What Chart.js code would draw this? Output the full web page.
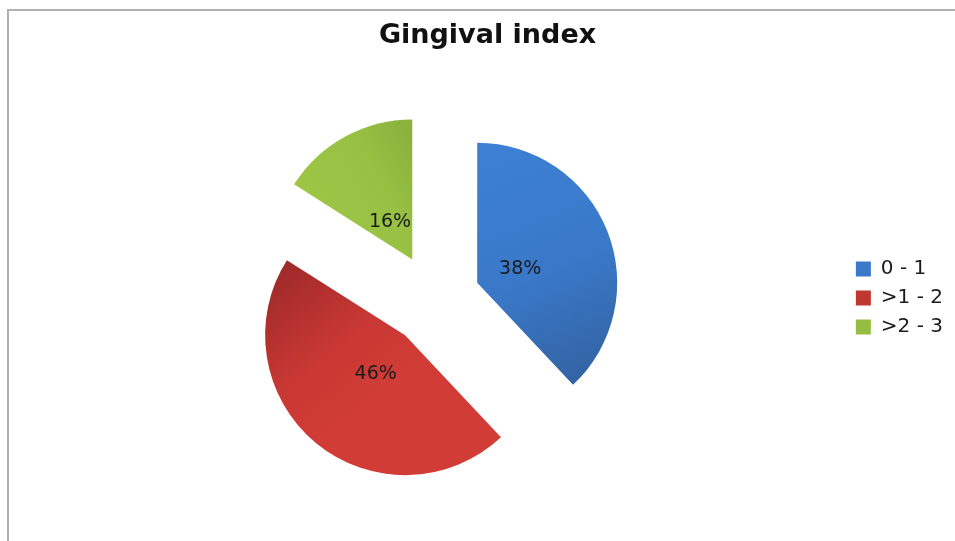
<!DOCTYPE html>
<html>
<head>
<meta charset="utf-8">
<script src="https://cdn.jsdelivr.net/npm/chart.js@4/dist/chart.umd.min.js"></script>
<style>
  html, body { margin: 0; padding: 0; background: #fff; overflow: hidden; }
  .line { position: absolute; background: #b0b0b0; }
  #top { left: 7px; top: 9px; width: 948px; height: 2px; }
  #left { left: 7px; top: 9px; width: 2px; height: 532px; }
  #wrap { position: absolute; left: 10px; top: 12px; width: 945px; height: 529px; }
</style>
</head>
<body>
<div class="line" id="top"></div>
<div class="line" id="left"></div>
<div id="wrap"><canvas id="pie"></canvas></div>
<script>
// Gingival index - distribuição dos grupos
const categories = ['0 - 1', '>1 - 2', '>2 - 3'];
const percentages = [38, 46, 16];
const legendColors = ['#3b78c9', '#c0372f', '#95bd42'];

const EXPLODE = 46;   // deslocamento de cada fatia (px)
const RADIUS = 140;
const FONT = 'DejaVu Sans';

// ângulo médio da fatia i (0 = topo, sentido horário, em radianos do canvas)
function sliceMid(i) {
  const total = percentages.reduce((a, b) => a + b, 0);
  let before = 0;
  for (let k = 0; k < i; k++) before += percentages[k];
  return -Math.PI / 2 + (before + percentages[i] / 2) / total * Math.PI * 2;
}

function sliceFill(ctx) {
  const chart = ctx.chart;
  const area = chart.chartArea;
  const i = ctx.dataIndex;
  if (!area) return legendColors[i];
  const mid = sliceMid(i);
  const ax = (area.left + area.right) / 2 + Math.cos(mid) * EXPLODE;
  const ay = (area.top + area.bottom) / 2 + Math.sin(mid) * EXPLODE;
  const c = chart.ctx;
  let g;
  if (i === 0) {
    g = c.createLinearGradient(ax, ay - 140, ax + 100, ay + 100);
    g.addColorStop(0, '#3d80d4');
    g.addColorStop(0.55, '#3a79c9');
    g.addColorStop(1, '#3363a3');
  } else if (i === 1) {
    g = c.createLinearGradient(ax - 125, ay - 65, ax - 25, ay + 60);
    g.addColorStop(0, '#a02a2b');
    g.addColorStop(0.6, '#c93833');
    g.addColorStop(1, '#d13c36');
  } else {
    g = c.createLinearGradient(ax - 110, ay - 60, ax, ay - 120);
    g.addColorStop(0, '#9dc647');
    g.addColorStop(0.6, '#98c143');
    g.addColorStop(1, '#8bb23d');
  }
  return g;
}

// afasta cada fatia do centro ao longo da bissetriz (mantém o raio igual)
const explode = {
  id: 'explode',
  afterDatasetUpdate(chart, args) {
    args.meta.data.forEach(arc => {
      const mid = (arc.startAngle + arc.endAngle) / 2;
      arc.x += Math.cos(mid) * EXPLODE;
      arc.y += Math.sin(mid) * EXPLODE;
    });
  }
};

// rótulos de porcentagem dentro das fatias
const sliceLabels = {
  id: 'sliceLabels',
  afterDatasetsDraw(chart) {
    const ctx = chart.ctx;
    const meta = chart.getDatasetMeta(0);
    ctx.save();
    ctx.font = '19px "' + FONT + '"';
    ctx.fillStyle = '#1b1b1b';
    ctx.textAlign = 'center';
    ctx.textBaseline = 'middle';
    meta.data.forEach((arc, i) => {
      const mid = (arc.startAngle + arc.endAngle) / 2;
      const d = arc.outerRadius * 0.33;
      ctx.fillText(percentages[i] + '%', arc.x + Math.cos(mid) * d, arc.y + Math.sin(mid) * d + 3);
    });
    ctx.restore();
  }
};

new Chart(document.getElementById('pie'), {
  type: 'pie',
  data: {
    labels: categories,
    datasets: [{
      data: percentages,
      backgroundColor: sliceFill,
      borderWidth: 0,
      hoverOffset: 0
    }]
  },
  options: {
    responsive: true,
    maintainAspectRatio: false,
    animation: false,
    events: [],
    radius: RADIUS,
    layout: { padding: { left: 12, right: 2, top: 0, bottom: 3 } },
    plugins: {
      title: {
        display: true,
        text: 'Gingival index',
        color: '#111',
        font: { family: FONT, size: 27, weight: 'bold' },
        padding: { top: 8, bottom: 9 }
      },
      legend: {
        position: 'right',
        // título vazio só para descer os itens da legenda
        title: { display: true, text: ' ', font: { size: 10 }, padding: { top: 17, bottom: 17 } },
        labels: {
          boxWidth: 15,
          boxHeight: 15,
          padding: 9,
          color: '#1b1b1b',
          font: { family: FONT, size: 20 },
          generateLabels: () => categories.map((c, i) => ({
            text: c,
            fillStyle: legendColors[i],
            strokeStyle: legendColors[i],
            fontColor: '#1b1b1b',
            lineWidth: 0,
            index: i
          }))
        }
      },
      tooltip: { enabled: false }
    }
  },
  plugins: [explode, sliceLabels]
});
</script>
</body>
</html>
